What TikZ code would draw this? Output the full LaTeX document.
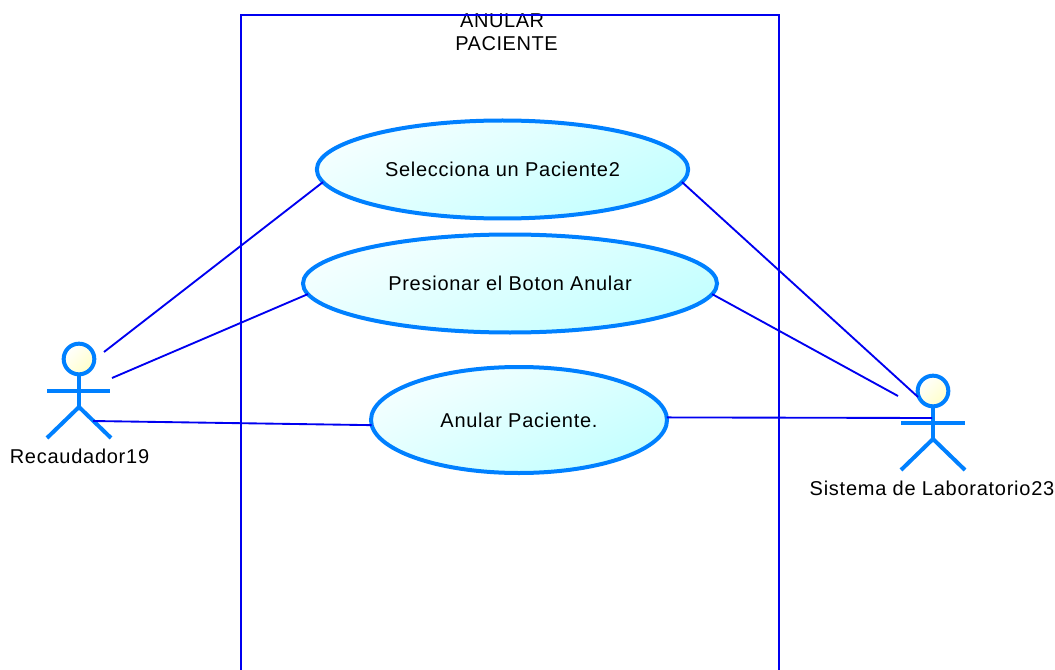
\documentclass[tikz,border=0pt]{standalone}
\usepackage{fontspec}
\setmainfont{Liberation Sans}
\newfontfamily\spacedfont[LetterSpace=3.7]{Liberation Sans}
\newfontfamily\titlefont[LetterSpace=2.8]{Liberation Sans}
\usetikzlibrary{shapes.geometric,calc}
\definecolor{umlblue}{RGB}{0,128,255}
\definecolor{frameblue}{RGB}{0,0,240}
\definecolor{casestart}{RGB}{245,255,255}
\definecolor{caseend}{RGB}{195,255,255}
\definecolor{headend}{RGB}{255,255,200}
\tikzset{
  x=0.75pt,y=-0.75pt,
  usecase/.style={ellipse,draw=umlblue,line width=3pt,inner sep=0pt,outer sep=0pt,
    left color=casestart,right color=caseend,shading angle=25,
    font=\spacedfont\fontsize{15}{18}\selectfont},
  head/.style={circle,draw=umlblue,line width=3pt,inner sep=0pt,outer sep=0pt,minimum size=23pt,
    left color=white,right color=headend,shading angle=45},
  limb/.style={draw=umlblue,line width=3pt},
  conn/.style={draw=frameblue,line width=1.4pt},
  lab/.style={inner sep=0pt,font=\spacedfont\fontsize{15}{18}\selectfont},
  titlelab/.style={inner sep=0pt,align=center,font=\titlefont\fontsize{15}{18}\selectfont},
}
\begin{document}
\begin{tikzpicture}
\useasboundingbox (0,0) rectangle (1055,670);
% system boundary
\node[titlelab] (title) at (506.5,32.5) {ANULAR\hspace*{6.5pt}\\[-0.75pt]PACIENTE};
\draw[conn] (241,670) -- (241,15) -- (779,15) -- (779,670);
% use cases
\node[usecase,minimum width=278.5pt,minimum height=73.5pt] (e1) at (502.5,169.5) {\raisebox{1pt}{Selecciona un Paciente2}};
\node[usecase,minimum width=310.5pt,minimum height=73.5pt] (e2) at (510,283.5) {Presionar el Boton Anular};
\node[usecase,minimum width=222pt,minimum height=79.5pt] (e3) at (519,420) {Anular Paciente.};
% left actor
\node[head] (h1) at (79,359) {};
\coordinate (a1l) at (47,391);
\coordinate (a1r) at (110,391);
\coordinate (c1) at (79,407);
\coordinate (f1l) at (47,438);
\coordinate (f1r) at (111,438);
\draw[limb] (h1.south) -- (c1);
\draw[limb] (a1l) -- (a1r);
\draw[limb] (f1l) -- (c1) -- (f1r);
\node[lab] (l1) at (79.5,456) {Recaudador19};
% right actor
\node[head] (h2) at (933,391) {};
\coordinate (a2l) at (901,423);
\coordinate (a2r) at (965,423);
\coordinate (c2) at (933,439);
\coordinate (f2l) at (901,470);
\coordinate (f2r) at (965,470);
\draw[limb] (h2.south) -- (c2);
\draw[limb] (a2l) -- (a2r);
\draw[limb] (f2l) -- (c2) -- (f2r);
\node[lab] (l2) at (932,488) {Sistema de Laboratorio23};
% connector ends
\coordinate (s1) at (104,352);
\coordinate (s2) at (112,378);
\coordinate (s3) at (93,421);
\coordinate (t1) at (918,397);
\coordinate (t2) at (898,396);
\coordinate (t3) at (932,418);
\draw[conn] (s1) -- (e1.184);
\draw[conn] (s2) -- (e2.183);
\draw[conn] (s3) -- (e3.182);
\draw[conn] (e1.356) -- (t1);
\draw[conn] (e2.357) -- (t2);
\draw[conn] (e3.1) -- (t3);
\end{tikzpicture}
\end{document}
